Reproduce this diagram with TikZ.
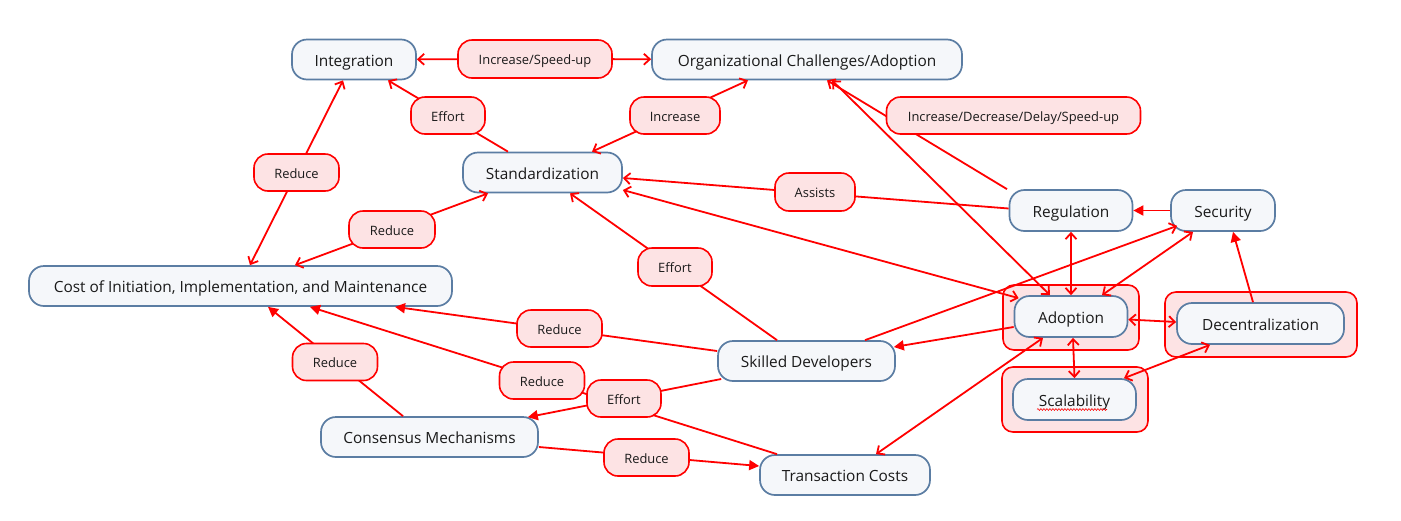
\documentclass[tikz,border=0pt]{standalone}
\usepackage{fontspec}
\setmainfont{Open Sans}
\usetikzlibrary{arrows.meta,calc,decorations.pathmorphing}
\definecolor{conb}{HTML}{5B7DA3}
\definecolor{conf}{HTML}{F5F7FA}
\definecolor{labf}{HTML}{FDE3E4}
\definecolor{lred}{HTML}{FF0000}
\definecolor{txt}{HTML}{1A1A1A}
\tikzset{
  concept/.style={draw=conb, fill=conf, line width=1.7pt, rounded corners=15pt,
    minimum height=40pt, inner sep=0pt, text=txt, text height=13pt, text depth=0pt,
    font=\fontsize{15.4}{17}\selectfont},
  lab/.style={draw=lred, fill=labf, line width=1.6pt, rounded corners=14pt,
    minimum height=37pt, inner sep=0pt, text=txt, text height=11pt, text depth=0pt,
    font=\fontsize{12.9}{14}\selectfont},
  hl/.style={draw=lred, fill=labf, line width=1.6pt, rounded corners=11pt},
  link/.style={draw=lred, line width=1.8pt},
  lone/.style={link, -{Straight Barb[length=6pt,width=11pt]}},
  ltwo/.style={link, {Straight Barb[length=6pt,width=11pt]}-{Straight Barb[length=6pt,width=11pt]}},
  lfill/.style={link, -{Triangle[length=10pt,width=10pt]}},
}
\begin{document}
\begin{tikzpicture}[x=1pt,y=-1pt]
\fill[white] (0,0) rectangle (1401,520);
\useasboundingbox (0,0) rectangle (1401,520);

% highlight boxes
\draw[hl] (1003,285) rectangle (1139,350);
\draw[hl] (1165,292) rectangle (1357,357);
\draw[hl] (1002,367) rectangle (1148,432);

% concept nodes
\node[concept, minimum width=124pt] (int) at (354,59.5) {Integration};
\node[concept, minimum width=310pt] (org) at (807,59.5) {Organizational Challenges/Adoption};
\node[concept, minimum width=159pt] (std) at (542.5,172.5) {Standardization};
\node[concept, minimum width=423pt] (cost) at (240.5,286) {Cost of Initiation, Implementation, and Maintenance};
\node[concept, minimum width=123pt, minimum height=41pt] (reg) at (1071,210.5) {Regulation};
\node[concept, minimum width=104pt, minimum height=41pt] (sec) at (1223,210.5) {Security};
\node[concept, minimum width=113pt, minimum height=41pt] (ado) at (1071,316.5) {Adoption};
\node[concept, minimum width=167pt, minimum height=41pt] (dec) at (1260.5,323.5) {Decentralization};
\node[concept, minimum width=123pt, minimum height=41pt] (sca) at (1074.5,399.5) {Scalability};
\node[concept, minimum width=177pt] (skd) at (806.5,361) {Skilled Developers};
\node[concept, minimum width=217pt] (con) at (429.5,437) {Consensus Mechanisms};
\node[concept, minimum width=170pt] (trc) at (845,475) {Transaction Costs};

% spelling underline
\draw[lred, line width=0.6pt, decorate, decoration={snake, amplitude=0.9pt, segment length=3pt}]
  ([xshift=-37.5pt,yshift=-10pt]sca.center) -- ([xshift=32.5pt,yshift=-10pt]sca.center);

% connectors
\draw[lone] ([xshift=-34.5pt]std.north) -- ([xshift=34pt]int.south);
\draw[ltwo] ([xshift=49.5pt]std.north) -- ([xshift=-59pt]org.south);
\draw[lone] ([xshift=-64pt]reg.north) -- ([xshift=20pt]org.south);
\draw[lone] ([yshift=2pt]reg.west) -- ([yshift=-5.5pt]std.east);
\draw[ltwo] ([xshift=9.5pt]cost.north) -- ([xshift=-11pt]int.south);
\draw[ltwo] ([xshift=54.5pt]cost.north) -- ([xshift=-54.5pt]std.south);
\draw[ltwo] ([yshift=-17.5pt]std.east) -- ([xshift=5pt,yshift=-3pt]ado.north west);
\draw[ltwo] ([xshift=25pt]org.south) -- ([xshift=-21pt]ado.north);
\draw[lone] ([xshift=-29.5pt]skd.north) -- ([xshift=27.5pt]std.south);
\draw[lfill] ([yshift=10pt]skd.west) -- ([xshift=154.5pt]cost.south);
\draw[lfill] ([xshift=-26.5pt]con.north) -- ([xshift=27.5pt]cost.south);
\draw[lfill] ([xshift=-68pt]trc.north) -- ([xshift=69.5pt]cost.south);
\draw[lfill] ([xshift=4pt,yshift=-18pt]skd.west) -- ([xshift=-11pt,yshift=-1pt]con.north east);
\draw[lfill] ([yshift=-10.5pt]ado.west) -- ([xshift=-2pt,yshift=14pt]skd.east);
\draw[lone] ([xshift=58.5pt]skd.north) -- ([xshift=7pt,yshift=6pt]sec.south west);
\draw[ltwo] ([xshift=-28pt]ado.south) -- ([xshift=31pt]trc.north);
\draw[ltwo] (reg.south) -- (ado.north);
\draw[lfill] (sec.west) -- (reg.east);
\draw[ltwo] ([xshift=-30pt]sec.south) -- ([xshift=31pt]ado.north);
\draw[lfill] ([xshift=-7.5pt]dec.north) -- ([xshift=10pt]sec.south);
\draw[ltwo] ([yshift=-3pt]ado.east) -- ([yshift=1.5pt]dec.west);
\draw[ltwo] ([xshift=2pt]ado.south) -- (sca.north);
\draw[ltwo] ([xshift=-50.5pt]dec.south) -- ([xshift=49.5pt]sca.north);
\draw[lfill] ([yshift=-10pt]con.east) -- ([yshift=9pt]trc.west);

% link labels
\node[lab, minimum width=154pt, minimum height=38pt] (is) at (535,59) {Increase/Speed-up};
\draw[lone] (is) -- (int);
\draw[lone] (is) -- (org);
\node[lab, minimum width=74pt] (e1) at (448,115.5) {Effort};
\node[lab, minimum width=90pt] (inc) at (675,115.5) {Increase};
\node[lab, minimum width=254pt] (idds) at (1013.5,115.5) {Increase/Decrease/Delay/Speed-up};
\node[lab, minimum width=85pt] (r1) at (296.5,172.5) {Reduce};
\node[lab, minimum width=80pt, minimum height=38pt] (as) at (815,192) {Assists};
\node[lab, minimum width=86pt] (r2) at (392,229.5) {Reduce};
\node[lab, minimum width=74pt, minimum height=38pt] (e2) at (675,267) {Effort};
\node[lab, minimum width=85pt] (r3) at (559.5,328.5) {Reduce};
\node[lab, minimum width=85pt] (r4) at (335,362) {Reduce};
\node[lab, minimum width=85pt] (r5) at (542,380.5) {Reduce};
\node[lab, minimum width=74pt] (e3) at (624,398.5) {Effort};
\node[lab, minimum width=85pt] (r6) at (646.5,457.5) {Reduce};
\end{tikzpicture}
\end{document}
